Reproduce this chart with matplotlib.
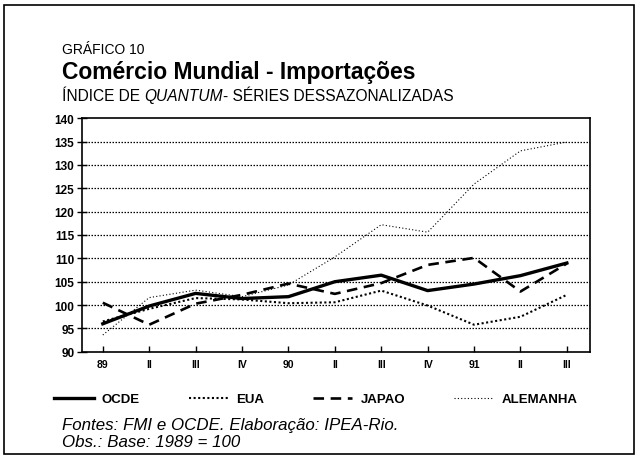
import matplotlib
matplotlib.use("Agg")
import matplotlib.pyplot as plt
from matplotlib.patches import Rectangle

# quarterly index, 1989 = 100
quarters = ["89", "II", "III", "IV", "90", "II", "III", "IV", "91", "II", "III"]
ocde = [96.0, 99.8, 102.5, 101.4, 101.8, 105.0, 106.4, 103.1, 104.5, 106.3, 109.0]
eua = [96.5, 99.2, 101.5, 101.2, 100.4, 100.6, 103.1, 99.9, 95.8, 97.5, 102.2]
japao = [100.5, 95.8, 100.3, 102.2, 104.6, 102.4, 104.7, 108.6, 110.1, 102.9, 108.9]
alemanha = [93.6, 101.6, 103.2, 101.8, 104.3, 110.3, 117.2, 115.6, 125.9, 133.0, 134.9]
yticks = [90, 95, 100, 105, 110, 115, 120, 125, 130, 135, 140]

plt.rcParams["font.family"] = ["Liberation Sans", "DejaVu Sans"]

fig = plt.figure(figsize=(6.4, 4.6), dpi=100)
ax = fig.add_axes([0.128, 0.233, 0.794, 0.508])

x = list(range(len(quarters)))
ax.plot(x, ocde, color="black", lw=2.4, label="OCDE")
ax.plot(x, eua, color="black", lw=1.5, linestyle=(0, (1, 1.2)), label="EUA")
ax.plot(x, japao, color="black", lw=1.9, linestyle=(0, (4, 2.5)), label="JAPAO")
ax.plot(x, alemanha, color="black", lw=0.8, linestyle=(0, (1, 2)), label="ALEMANHA")

ax.set_xlim(-0.45, 10.5)
ax.set_ylim(90, 140)
ax.set_xticks(x)
ax.set_xticklabels(quarters, fontsize=7.5, fontweight="bold")
ax.set_yticks(yticks)
ax.set_yticklabels([str(v) for v in yticks], fontsize=8.5, fontweight="bold")
ax.tick_params(axis="y", direction="inout", length=7, width=1, pad=2)
ax.tick_params(axis="x", direction="in", length=4, width=1, pad=5)
for v in yticks[1:-1]:
    ax.axhline(v, color="black", lw=0.9, linestyle=(0, (1.2, 1.2)), zorder=0)
for s in ax.spines.values():
    s.set_linewidth(1.2)

handles, labels = ax.get_legend_handles_labels()
fig.legend(handles, labels, loc="center left", bbox_to_anchor=(0.066, 0.130),
           ncol=4, frameon=False, handlelength=3.0, columnspacing=3.7,
           handletextpad=0.6, prop={"size": 9.5, "weight": "bold"})

# titles
fig.text(0.097, 0.891, "GRÁFICO 10", fontsize=10, va="center")
fig.text(0.097, 0.843, "Comércio Mundial - Importações", fontsize=16.5,
         fontweight="bold", va="center")
t1 = fig.text(0.097, 0.774, "ÍNDICE DE ", fontsize=11.2, va="bottom")
t2 = ax.annotate("QUANTUM", xy=(1, 0), xycoords=t1, fontsize=11.2,
                 style="italic", va="bottom", ha="left", annotation_clip=False)
ax.annotate("- SÉRIES DESSAZONALIZADAS", xy=(1, 0), xycoords=t2, fontsize=11.2,
            va="bottom", ha="left", annotation_clip=False)

# notes
fig.text(0.097, 0.076, "Fontes: FMI e OCDE. Elaboração: IPEA-Rio.", fontsize=12.2,
         style="italic", va="center")
fig.text(0.097, 0.039, "Obs.: Base: 1989 = 100", fontsize=12.2,
         style="italic", va="center")

fig.patches.append(Rectangle((4 / 640, 0.011), 630 / 640, 0.976,
                             transform=fig.transFigure, fill=False,
                             lw=1.2, color="black"))

fig.savefig("out.png", dpi=100)
